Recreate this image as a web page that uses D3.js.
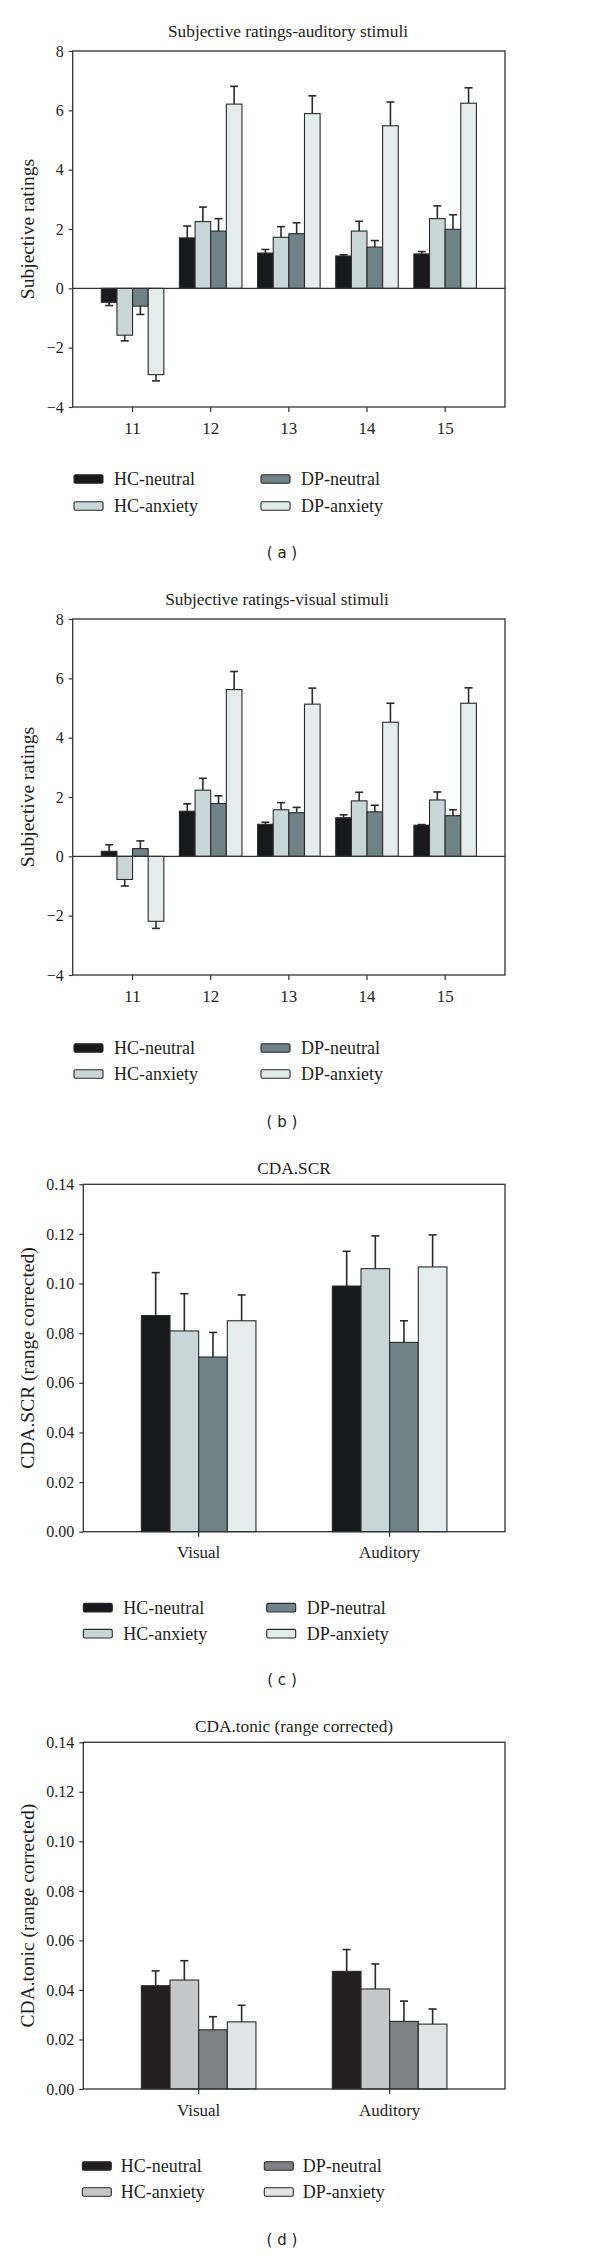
<!DOCTYPE html>
<html lang="en">
<head>
<meta charset="UTF-8">
<title>Subjective ratings and CDA</title>
<style>
  body { margin: 0; background: #fff; }
  svg { display: block; }
</style>
</head>
<body>
<svg id="chart"></svg>
<script src="https://cdnjs.cloudflare.com/ajax/libs/d3/7.8.5/d3.min.js"></script>
<script>
// conditions (legend order = bar order)
const conditions = ["HC-neutral", "HC-anxiety", "DP-neutral", "DP-anxiety"];

// panel a/b categories
const items = ["11", "12", "13", "14", "15"];
const ratingTicks = [-4, -2, 0, 2, 4, 6, 8];

// (a) subjective ratings, auditory stimuli: one row per item
const auditoryMeans = [
  [-0.47, -1.58, -0.60, -2.91],
  [1.70, 2.25, 1.93, 6.21],
  [1.19, 1.72, 1.84, 5.89],
  [1.09, 1.93, 1.39, 5.48],
  [1.16, 2.35, 1.99, 6.24]
];
const auditoryErr = [
  [0.11, 0.19, 0.28, 0.21],
  [0.40, 0.49, 0.42, 0.60],
  [0.12, 0.36, 0.37, 0.60],
  [0.04, 0.33, 0.22, 0.80],
  [0.08, 0.43, 0.49, 0.52]
];

// (b) subjective ratings, visual stimuli
const visualMeans = [
  [0.17, -0.78, 0.26, -2.19],
  [1.52, 2.23, 1.78, 5.62],
  [1.08, 1.57, 1.47, 5.13],
  [1.30, 1.87, 1.50, 4.52],
  [1.05, 1.90, 1.37, 5.16]
];
const visualErr = [
  [0.22, 0.22, 0.26, 0.24],
  [0.25, 0.40, 0.26, 0.61],
  [0.07, 0.24, 0.18, 0.54],
  [0.10, 0.29, 0.22, 0.64],
  [0.02, 0.27, 0.20, 0.52]
];

// panel c/d categories
const modalities = ["Visual", "Auditory"];
const cdaTicks = [0, 0.02, 0.04, 0.06, 0.08, 0.10, 0.12, 0.14];

// (c) CDA.SCR
const scrMeans = [
  [0.0871, 0.0809, 0.0704, 0.0850],
  [0.0990, 0.1060, 0.0763, 0.1067]
];
const scrErr = [
  [0.0173, 0.0150, 0.0099, 0.0104],
  [0.0140, 0.0132, 0.0087, 0.0129]
];

// (d) CDA.tonic
const tonicMeans = [
  [0.0417, 0.0440, 0.0239, 0.0271],
  [0.0475, 0.0404, 0.0273, 0.0262]
];
const tonicErr = [
  [0.0060, 0.0078, 0.0053, 0.0067],
  [0.0088, 0.0101, 0.0082, 0.0061]
];

const W = 600, H = 2255;
const serif = "'Liberation Serif', 'Times New Roman', serif";

const svg = d3.select("#chart")
    .attr("width", W)
    .attr("height", H);

svg.append("rect").attr("width", W).attr("height", H).attr("fill", "#fff");

const tealColors = ["#18191b", "#c9d6d7", "#6f8285", "#e5ecec"];
const grayColors = ["#231f20", "#c6c7c9", "#808183", "#e2e3e5"];

function drawPanel(p) {
    const g = svg.append("g");

    const x = d3.scaleBand()
        .domain(p.cats)
        .range([p.left, p.right])
        .paddingInner(p.padInner)
        .paddingOuter(p.padOuter);
    const xs = d3.scaleBand()
        .domain(conditions)
        .range([0, x.bandwidth()]);
    const y = d3.scaleLinear()
        .domain(p.domain)
        .range([p.bottom, p.top]);
    const color = d3.scaleOrdinal().domain(conditions).range(p.colors);

    // title
    g.append("text")
        .attr("x", p.titleX)
        .attr("y", p.top - p.titleGap)
        .attr("text-anchor", "middle")
        .style("font-family", serif)
        .style("font-size", "17.3px")
        .style("fill", "#231f20")
        .text(p.title);

    // y label
    g.append("text")
        .attr("transform", `translate(27, ${(p.top + p.bottom) / 2}) rotate(-90)`)
        .attr("text-anchor", "middle")
        .attr("dominant-baseline", "central")
        .style("font-family", serif)
        .style("font-size", "19.5px")
        .style("fill", "#231f20")
        .text(p.ylabel);

    // bars
    const rows = p.means.flatMap((row, i) => row.map((v, j) => ({
        cat: p.cats[i], cond: conditions[j], v: v, e: p.errs[i][j]
    })));

    const cx = d => x(d.cat) + xs(d.cond) + xs.bandwidth() / 2;
    const tip = d => y(d.v + (d.v < 0 ? -d.e : d.e));

    // error bars (one-sided, away from zero)
    const eb = g.append("g").selectAll("g")
        .data(rows)
        .join("g")
        .attr("stroke", "#2b2b2b")
        .attr("stroke-width", 1.6);
    eb.append("line")
        .attr("x1", cx).attr("x2", cx)
        .attr("y1", d => y(d.v))
        .attr("y2", tip);
    eb.append("line")
        .attr("x1", d => cx(d) - 4)
        .attr("x2", d => cx(d) + 4)
        .attr("y1", tip)
        .attr("y2", tip);

    g.append("g").selectAll("rect")
        .data(rows)
        .join("rect")
        .attr("x", d => x(d.cat) + xs(d.cond))
        .attr("width", xs.bandwidth())
        .attr("y", d => Math.min(y(0), y(d.v)))
        .attr("height", d => Math.abs(y(d.v) - y(0)))
        .attr("fill", d => color(d.cond))
        .attr("stroke", "#2a2a2a")
        .attr("stroke-width", 1.1);

    // zero line
    if (p.domain[0] < 0) {
        g.append("line")
            .attr("x1", p.left).attr("x2", p.right)
            .attr("y1", y(0)).attr("y2", y(0))
            .attr("stroke", "#333").attr("stroke-width", 1.3);
    }

    // frame
    g.append("rect")
        .attr("x", p.left).attr("y", p.top)
        .attr("width", p.right - p.left)
        .attr("height", p.bottom - p.top)
        .attr("fill", "none")
        .attr("stroke", "#333")
        .attr("stroke-width", 1.3);

    // axes
    const yAxis = g.append("g")
        .attr("transform", `translate(${p.left},0)`)
        .call(d3.axisLeft(y).tickValues(p.ticks).tickFormat(d3.format(p.fmt)).tickSize(4).tickPadding(5));
    const xAxis = g.append("g")
        .attr("transform", `translate(0,${p.bottom})`)
        .call(d3.axisBottom(x).tickSize(5).tickPadding(p.xPad));
    [yAxis, xAxis].forEach(a => {
        a.select(".domain").remove();
        a.selectAll(".tick line").attr("stroke", "#333").attr("stroke-width", 1.2);
        a.selectAll(".tick text")
            .style("font-family", serif)
            .style("fill", "#231f20");
    });
    yAxis.selectAll(".tick text").style("font-size", "16px");
    xAxis.selectAll(".tick text").style("font-size", "17px");

    // legend, two columns
    const leg = g.append("g").selectAll("g")
        .data(conditions)
        .join("g")
        .attr("transform", (d, i) => `translate(${p.legX[Math.floor(i / 2)]},${p.legY[i % 2]})`);
    leg.append("rect")
        .attr("x", 0).attr("y", -4.3)
        .attr("width", 29).attr("height", 8.6)
        .attr("rx", 1.5)
        .attr("fill", d => color(d))
        .attr("stroke", "#2a2a2a")
        .attr("stroke-width", 1.1);
    leg.append("text")
        .attr("x", p.legText)
        .attr("y", 0)
        .attr("dominant-baseline", "central")
        .style("font-family", serif)
        .style("font-size", "18px")
        .style("fill", "#231f20")
        .text(d => d);

    // panel tag
    g.append("text")
        .attr("x", p.tagX)
        .attr("y", p.tagY)
        .attr("text-anchor", "middle")
        .attr("dominant-baseline", "central")
        .style("font-family", "'DejaVu Sans', sans-serif")
        .style("font-size", "15px")
        .style("fill", "#231f20")
        .style("white-space", "pre")
        .text(p.tag);
}

drawPanel({
    title: "Subjective ratings-auditory stimuli", titleX: 288, titleGap: 14,
    ylabel: "Subjective ratings",
    cats: items, means: auditoryMeans, errs: auditoryErr,
    domain: [-4, 8], ticks: ratingTicks, fmt: "d",
    left: 72.7, right: 505, top: 51, bottom: 407,
    padInner: 0.2, padOuter: 0.366, xPad: 10,
    colors: tealColors,
    legX: [74, 261], legText: 40, legY: [479, 506],
    tag: "( a )", tagX: 282, tagY: 553
});

drawPanel({
    title: "Subjective ratings-visual stimuli", titleX: 277, titleGap: 14,
    ylabel: "Subjective ratings",
    cats: items, means: visualMeans, errs: visualErr,
    domain: [-4, 8], ticks: ratingTicks, fmt: "d",
    left: 72.7, right: 505, top: 619, bottom: 975,
    padInner: 0.2, padOuter: 0.366, xPad: 10,
    colors: tealColors,
    legX: [74, 261], legText: 40, legY: [1048, 1074],
    tag: "( b )", tagX: 282, tagY: 1122
});

drawPanel({
    title: "CDA.SCR", titleX: 294, titleGap: 10,
    ylabel: "CDA.SCR (range corrected)",
    cats: modalities, means: scrMeans, errs: scrErr,
    domain: [0, 0.14], ticks: cdaTicks, fmt: ".2f",
    left: 83.3, right: 505, top: 1184.3, bottom: 1531.7,
    padInner: 0.4, padOuter: 0.304, xPad: 9,
    colors: tealColors,
    legX: [83.3, 266.7], legText: 40, legY: [1607.7, 1633.7],
    tag: "( c )", tagX: 282, tagY: 1680
});

drawPanel({
    title: "CDA.tonic (range corrected)", titleX: 294, titleGap: 10,
    ylabel: "CDA.tonic (range corrected)",
    cats: modalities, means: tonicMeans, errs: tonicErr,
    domain: [0, 0.14], ticks: cdaTicks, fmt: ".2f",
    left: 83.3, right: 505, top: 1742.3, bottom: 2089,
    padInner: 0.4, padOuter: 0.304, xPad: 10,
    colors: grayColors,
    legX: [82.3, 264.3], legText: 38.5, legY: [2166, 2192],
    tag: "( d )", tagX: 282, tagY: 2240
});
</script>
</body>
</html>
